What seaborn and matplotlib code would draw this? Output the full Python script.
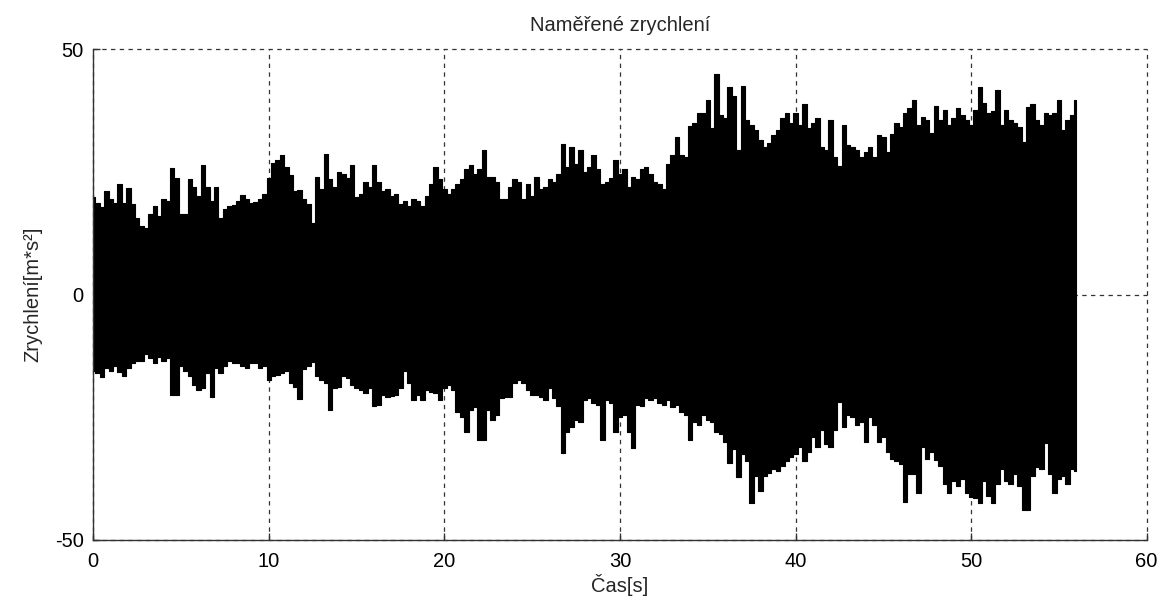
import numpy as np
import pandas as pd
import matplotlib
matplotlib.use("Agg")
import matplotlib.pyplot as plt
import seaborn as sns

# Upper and lower envelope of the measured acceleration, read every 0.25 s (0 .. 56 s)
upper_env = [
    19.9, 18.6, 17.9, 21.0, 19.5, 18.6, 22.5, 18.6, 21.8, 18.5, 15.5, 14.0, 13.5,
    16.5, 18.0, 16.0, 19.5, 19.0, 25.7, 23.7, 16.5, 16.5, 23.5, 22.0, 20.0, 26.4,
    22.0, 19.0, 22.0, 15.5, 17.5, 18.0, 18.2, 19.0, 20.3, 19.5, 18.6,
    18.8, 19.5, 20.5, 23.8, 26.7, 27.4, 28.4, 26.0, 24.3, 21.0, 21.3, 19.5, 18.5,
    14.5, 24.0, 21.5, 28.7, 23.5, 22.0, 25.0, 24.5, 23.8, 26.4, 19.9, 20.5, 23.0,
    22.0, 26.4, 23.0, 21.0, 21.5, 20.0, 20.5, 18.5, 19.0, 18.0, 19.5,
    19.0, 18.0, 20.0, 22.5, 26.0, 23.5, 21.5, 20.5, 21.5, 22.5, 23.5, 25.5, 26.4,
    24.5, 25.5, 29.4, 24.0, 24.0, 23.0, 19.5, 19.5, 22.0, 23.5, 23.0, 19.5, 22.5,
    20.0, 24.0, 21.5, 22.0, 23.5, 23.0, 24.5, 30.7, 26.0, 30.0, 26.5, 29.5,
    25.0, 26.0, 28.5, 25.5, 22.5, 23.0, 23.8, 27.4, 24.5, 25.5, 22.0, 24.0, 23.5,
    25.5, 26.0, 24.5, 23.0, 22.5, 21.5, 26.5, 28.5, 32.0, 28.5, 28.0, 34.3, 35.0,
    36.9, 37.0, 39.6, 34.0, 45.0, 36.5, 36.0, 42.3, 40.5, 29.4, 42.5,
    35.5, 34.5, 33.5, 31.5, 30.1, 30.8, 32.5, 33.5, 36.0, 36.9, 35.0, 36.9, 34.5,
    38.9, 34.0, 34.9, 36.0, 30.1, 29.5, 35.5, 28.1, 26.1, 34.5, 30.5, 30.0, 29.4,
    28.1, 29.0, 30.0, 28.0, 32.5, 32.0, 29.0, 32.8, 35.0, 34.2, 36.9, 38.0,
    39.6, 34.5, 36.2, 35.5, 33.0, 38.5, 35.5, 37.6, 34.5, 36.0, 38.0, 36.5, 35.5,
    34.5, 37.6, 42.3, 39.0, 37.0, 37.3, 41.7, 34.5, 37.6, 35.5, 35.0, 34.2, 31.1,
    38.3, 38.9, 35.5, 34.5, 37.0, 36.5, 37.0, 39.6, 33.5, 35.5, 36.5, 39.6,
]
lower_env = [
    -15.5, -16.0, -16.7, -15.0, -15.5, -14.5, -15.8, -16.5, -15.0, -14.0, -13.5, -13.5, -12.2,
    -13.0, -14.0, -12.8, -13.5, -13.0, -20.4, -20.4, -14.5, -15.5, -16.5, -18.5, -19.4, -19.0,
    -16.0, -20.8, -15.0, -16.0, -14.5, -13.5, -14.0, -14.0, -14.5, -15.0, -14.0,
    -14.0, -15.0, -14.5, -17.4, -16.5, -16.3, -16.0, -15.5, -18.0, -18.8, -21.2, -15.2, -14.5,
    -13.8, -16.5, -17.4, -18.0, -23.5, -19.0, -18.8, -16.5, -17.0, -18.5, -19.0, -19.5, -20.0,
    -19.0, -22.8, -22.5, -20.5, -20.8, -20.6, -20.5, -19.0, -15.5, -18.0, -21.5,
    -20.5, -21.5, -19.4, -19.8, -20.0, -21.5, -19.0, -18.5, -19.5, -24.0, -25.0, -28.0, -23.5,
    -23.0, -29.6, -29.6, -23.5, -25.5, -24.5, -21.0, -20.8, -20.8, -18.0, -17.5, -18.0, -19.4,
    -20.5, -20.5, -20.8, -21.5, -19.0, -21.0, -22.8, -32.3, -28.0, -27.0, -25.5, -26.0,
    -21.5, -21.0, -22.0, -22.5, -29.6, -21.5, -22.0, -28.0, -25.0, -24.5, -28.0, -31.3, -22.5,
    -22.8, -21.0, -21.5, -21.0, -22.0, -22.5, -21.5, -23.0, -22.5, -24.0, -24.5, -29.6, -26.0,
    -26.5, -24.5, -25.5, -26.0, -28.0, -28.5, -30.0, -34.4, -31.5, -37.1, -32.5,
    -34.0, -42.5, -37.0, -40.0, -37.0, -36.4, -35.5, -36.0, -35.0, -34.0, -33.0, -32.5, -31.0,
    -34.0, -32.0, -29.0, -31.0, -27.6, -30.5, -31.0, -27.6, -21.8, -27.0, -24.5, -25.0, -26.5,
    -26.0, -30.0, -25.0, -26.5, -30.0, -29.0, -32.0, -33.5, -34.0, -34.5, -42.2, -36.5,
    -36.5, -40.5, -31.0, -33.5, -32.0, -33.7, -35.0, -38.5, -40.5, -38.0, -39.0, -37.5, -40.5,
    -41.2, -41.5, -42.5, -38.0, -41.0, -42.5, -38.5, -35.5, -38.0, -38.5, -36.5, -39.0, -43.9,
    -43.9, -37.0, -35.1, -35.5, -30.3, -36.5, -40.5, -37.5, -37.0, -38.5, -35.5, -36.0,
]
time_s = np.linspace(0.0, 56.0, len(upper_env))

x_ticks = [0, 10, 20, 30, 40, 50, 60]
y_ticks = [-50, 0, 50]
title_text = "Naměřené zrychlení"
x_label = "Čas[s]"
y_label = "Zrychlení[m*s²]"

sns.set_theme(style="white")
plt.rcParams["font.family"] = ["Liberation Sans", "DejaVu Sans"]
plt.rcParams["axes.unicode_minus"] = False

df = pd.DataFrame({
    "t": np.concatenate([time_s, time_s]),
    "acc": np.concatenate([upper_env, lower_env]),
})

fig = plt.figure(figsize=(11.6, 5.99), dpi=100)
ax = fig.add_axes([0.0804, 0.0985, 0.9081, 0.8195])
ax.set_axisbelow(True)

sns.lineplot(
    data=df, x="t", y="acc", estimator="mean", errorbar=("pi", 100),
    color="black", linewidth=0, ax=ax,
    err_kws={"alpha": 1, "step": "mid", "linewidth": 0.8, "edgecolor": "black"},
)

ax.set_xlim(0, 60)
ax.set_ylim(-50, 50)
ax.set_xticks(x_ticks)
ax.set_yticks(y_ticks)
ax.grid(True, linestyle=(0, (3.5, 3.5)), color="#333333", linewidth=0.9)
for gl in ax.get_xgridlines() + ax.get_ygridlines():
    gl.set_clip_on(False)

for side in ["top", "right"]:
    ax.spines[side].set_visible(False)
for side in ["left", "bottom"]:
    ax.spines[side].set_color("#333333")
    ax.spines[side].set_linewidth(1.0)

ax.tick_params(axis="both", direction="in", length=5, width=1, color="#333333",
               labelsize=14.5, bottom=True, left=True, labelcolor="black")
ax.tick_params(axis="x", pad=9)
ax.tick_params(axis="y", pad=7)

ax.set_title(title_text, fontsize=14.5, pad=13)
ax.set_xlabel(x_label, fontsize=14.5, labelpad=2)
ax.set_ylabel(y_label, fontsize=14.5, labelpad=9)

fig.savefig("out.png", dpi=100, facecolor="white")
